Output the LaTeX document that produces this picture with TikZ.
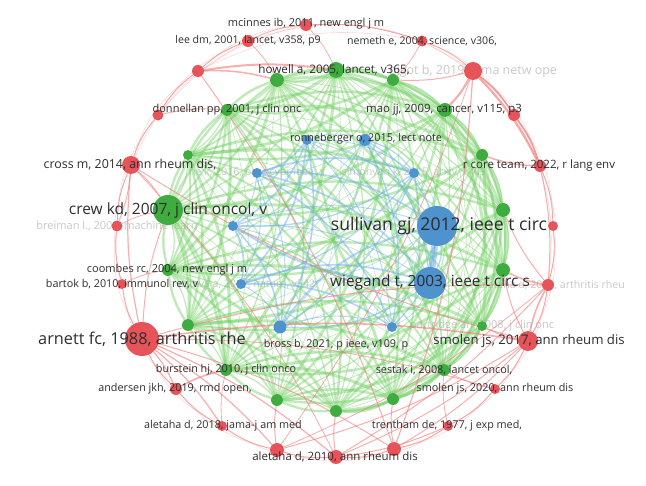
\documentclass[tikz,border=0pt]{standalone}
\usepackage{fontspec}
\setmainfont{Open Sans}
\usetikzlibrary{backgrounds}
\definecolor{redc}{RGB}{230,84,90}
\definecolor{greenc}{RGB}{62,172,62}
\definecolor{bluec}{RGB}{78,146,206}
\definecolor{redl}{RGB}{240,120,120}
\definecolor{greenl}{RGB}{115,208,100}
\definecolor{bluel}{RGB}{110,175,235}
\definecolor{txtc}{RGB}{45,45,45}
\definecolor{fadec}{RGB}{200,200,200}
\newcommand\lblsize[1]{\fontsize{#1}{#1}\selectfont}
\tikzset{
  rn/.style={circle,fill=redc,inner sep=0pt,minimum size=#1pt},
  gn/.style={circle,fill=greenc,inner sep=0pt,minimum size=#1pt},
  bn/.style={circle,fill=bluec,inner sep=0pt,minimum size=#1pt},
  lbl/.style={text=txtc,inner sep=0pt,anchor=center,font=\lblsize{#1}},
  flbl/.style={text=fadec,inner sep=0pt,anchor=center,font=\lblsize{#1}},
  gedge/.style={draw=greenl,opacity=0.45},
  bedge/.style={draw=bluel,opacity=0.5},
  redge/.style={draw=redl,opacity=0.6},
  rfaint/.style={draw=redl,opacity=0.3,line width=0.6pt},
}
\begin{document}
\begin{tikzpicture}[x=1pt,y=-1pt]
\useasboundingbox (0,0) rectangle (646,486);
% red nodes
\node[rn=12] (r1) at (306,25) {};
\node[rn=12] (r2) at (248,41) {};
\node[rn=11] (r3) at (422,41) {};
\node[rn=12] (r4) at (198,71) {};
\node[rn=18] (r5) at (473,71) {};
\node[rn=12] (r6) at (514,115) {};
\node[rn=11] (r7) at (158,115) {};
\node[rn=18] (r8) at (131,165) {};
\node[rn=12] (r9) at (540,166) {};
\node[rn=11] (r10) at (117,226) {};
\node[rn=10] (r11) at (553,226) {};
\node[rn=10] (r12) at (122,284) {};
\node[rn=12] (r13) at (548,285) {};
\node[rn=34] (r14) at (142,339) {};
\node[rn=20] (r15) at (528,341) {};
\node[rn=12] (r16) at (176,389) {};
\node[rn=10] (r17) at (495,389) {};
\node[rn=10] (r18) at (222,426) {};
\node[rn=10] (r19) at (448,426) {};
\node[rn=14] (r20) at (277,450) {};
\node[rn=14] (r21) at (336,457) {};
\node[rn=14] (r22) at (394,449) {};
% green nodes
\node[gn=16] (g1) at (336,70) {};
\node[gn=14] (g2) at (277,80) {};
\node[gn=12] (g3) at (393,80) {};
\node[gn=12] (g4) at (227,110) {};
\node[gn=14] (g5) at (445,110) {};
\node[gn=10] (g6) at (188,155) {};
\node[gn=12] (g7) at (482,155) {};
\node[gn=30] (g8) at (168,210) {};
\node[gn=14] (g9) at (503,210) {};
\node[gn=12] (g10) at (168,270) {};
\node[gn=14] (g11) at (503,270) {};
\node[gn=12] (g12) at (188,325) {};
\node[gn=10] (g13) at (482,326) {};
\node[gn=12] (g14) at (226,370) {};
\node[gn=12] (g15) at (444,370) {};
\node[gn=12] (g16) at (277,400) {};
\node[gn=12] (g17) at (393,399) {};
\node[gn=12] (g18) at (336,411) {};
% blue nodes
\node[bn=10] (b1) at (307,140) {};
\node[bn=12] (b2) at (365,140) {};
\node[bn=10] (b3) at (257,173) {};
\node[bn=10] (b4) at (414,173) {};
\node[bn=10] (b5) at (233,226) {};
\node[bn=40] (b6) at (437,226) {};
\node[bn=10] (b7) at (241,284) {};
\node[bn=32] (b8) at (430,283) {};
\node[bn=13] (b9) at (280,327) {};
\node[bn=10] (b10) at (392,327) {};

\begin{scope}[on background layer]
  % faded labels, behind the connectors
  \node[flbl=12.5] (l-r5) at (473,71) {pigot b, 2019, jama netw ope};
  \node[flbl=10.6] (l-b3) at (257,173) {he k, 2016, proc cvpr ieee, x};
  \node[flbl=10.6] (l-b4) at (414,173) {simonyan k, 2015, arxiv, 1409};
  \node[flbl=11] (l-r10) at (117,226) {breiman l., 2001, machine learn};
  \node[flbl=10.6] (l-b7) at (248,284) {esteva a, 2017, nature, v542,};
  \node[flbl=10.6] (l-r13) at (552,285) {aletaha d, 2010, arthritis rheu};
  \node[flbl=11] (l-g13) at (482,326) {partridge ah, 2008, j clin onc};
  % faint outer red arcs
  \foreach \a/\b in {r2/r3,r4/r1,r1/r5,r3/r6,r5/r9,r6/r11,r9/r13,r11/r15,r13/r17,r15/r19,r17/r22,r19/r21,r22/r20,r21/r18,r20/r16,r18/r14,r16/r12,r14/r10,r12/r8,r10/r7,r8/r4,r7/r2,r4/r3,r7/r1,r8/r2,r3/r9,r6/r13}
    \draw[rfaint] (\a) to[bend left=18] (\b);
  % green cluster
  \foreach \i in {1,...,18}{
    \foreach \j in {1,...,18}{
      \ifnum\j>\i
        \pgfmathsetmacro\ew{0.6+mod(\i*7+\j*3,5)*0.6}
        \draw[gedge,line width=\ew pt] (g\i) to[bend left=16] (g\j);
      \fi
    }
  }
  % extra green arcs along the ring
  \foreach \a/\b in {g1/g3,g3/g5,g5/g7,g7/g9,g9/g11,g11/g13,g13/g15,g15/g17,g17/g18,g18/g16,g16/g14,g14/g12,g12/g10,g10/g8,g8/g6,g6/g4,g4/g2,g2/g1,g8/g4,g8/g2,g8/g12,g8/g14}
    \draw[gedge,line width=2.4pt] (\a) to[bend left=12] (\b);
  % blue cluster
  \foreach \i in {1,...,10}{
    \foreach \j in {1,...,10}{
      \ifnum\j>\i
        \pgfmathsetmacro\ew{0.5+mod(\i*5+\j*2,4)*0.4}
        \draw[bedge,line width=\ew pt] (b\i) to[bend left=18] (b\j);
      \fi
    }
  }
  \draw[bedge,line width=7pt,opacity=0.55] (b6) -- (b8);
  \draw[bedge,line width=2pt] (b9) to[bend left=20] (b6);
  \draw[bedge,line width=2pt] (b5) to[bend right=15] (b8);
  % red ring
  \foreach \a/\b in {r2/r1,r1/r3,r3/r5,r5/r6,r6/r9,r9/r11,r11/r13,r13/r15,r15/r17,r17/r19,r19/r22,r22/r21,r21/r20,r20/r18,r18/r16,r16/r14,r14/r12,r12/r10,r10/r8,r8/r7,r7/r4,r4/r2}
    \draw[redge,line width=0.9pt] (\a) to[bend left=10] (\b);
  % red chords
  \foreach \a/\b/\c in {r14/r15/1.6,r14/r21/1.2,r14/r20/1.2,r14/r13/1,r14/r8/1.2,r14/r22/1,r14/r17/0.8,r14/r18/1.2,r14/r16/1.2,
      r15/r21/1,r15/r20/1,r15/r8/1,r15/r13/1.6,r15/r22/1,r13/r21/1,r13/r20/0.8,r8/r21/0.8,r8/r10/1,
      r5/r9/2.2,r5/r6/1.5,r5/r22/1.2,r5/r20/0.8,r4/r22/1,r6/r9/1.5,r9/r13/1,r19/r21/1,
      r16/g14/1.6,r4/g1/2,r4/g2/1.5,r5/g5/2.2,r5/g3/1,r8/g8/1,r14/g8/1,r15/g13/1,r15/g11/1,r13/g11/1.5,
      r13/g9/1,r9/g7/1.5,r7/g4/1,r20/g16/1,r21/g18/1,r22/g17/1,r2/g2/0.8,r3/g3/0.8,r1/g1/0.8,r12/g10/0.8,r10/g8/0.8,r18/g14/0.8,r19/g15/0.8,r17/g15/0.8}
    \draw[redge,line width=\c pt] (\a) to[bend left=8] (\b);
\end{scope}

% labels
\node[lbl=11] (l-r1) at (306,24) {mcinnes ib, 2011, new engl j m};
\node[lbl=10.6] (l-r2) at (248,41) {lee dm, 2001, lancet, v358, p9};
\node[lbl=10.6] (l-r3) at (422,41) {nemeth e, 2004, science, v306,};
\node[lbl=11.7] (l-g1) at (334,70) {howell a, 2005, lancet, v365,};
\node[lbl=11] (l-g4) at (227,110) {donnellan pp, 2001, j clin onc};
\node[lbl=11.4] (l-g5) at (444,110) {mao jj, 2009, cancer, v115, p3};
\node[lbl=10.8] (l-b2) at (366,139) {ronneberger o, 2015, lect note};
\node[lbl=12.4] (l-r8) at (130,165) {cross m, 2014, ann rheum dis,};
\node[lbl=11.5] (l-r9) at (539,166) {r core team, 2022, r lang env};
\node[lbl=15.5] (l-g8) at (168,210) {crew kd, 2007, j clin oncol, v};
\node[lbl=17.6] (l-b6) at (439,226) {sullivan gj, 2012, ieee t circ};
\node[lbl=11] (l-g10) at (167,270) {coombes rc, 2004, new engl j m};
\node[lbl=10.8] (l-r12) at (122,284) {bartok b, 2010, immunol rev, v};
\node[lbl=15.4] (l-b8) at (430,283) {wiegand t, 2003, ieee t circ s};
\node[lbl=16.3] (l-r14) at (142,339) {arnett fc, 1988, arthritis rhe};
\node[lbl=10.8] (l-b9) at (336,345) {bross b, 2021, p ieee, v109, p};
\node[lbl=13.2] (l-r15) at (529,341) {smolen js, 2017, ann rheum dis};
\node[lbl=10.8] (l-g14) at (226,370) {burstein hj, 2010, j clin onco};
\node[lbl=10.8] (l-g15) at (444,370) {sestak i, 2008, lancet oncol,};
\node[lbl=10.8] (l-r16) at (175,389) {andersen jkh, 2019, rmd open,};
\node[lbl=10.8] (l-r17) at (495,389) {smolen js, 2020, ann rheum dis};
\node[lbl=10.8] (l-r18) at (223,426) {aletaha d, 2018, jama-j am med};
\node[lbl=10.8] (l-r19) at (447,426) {trentham de, 1977, j exp med,};
\node[lbl=11.5] (l-r21) at (335,457) {aletaha d, 2010, ann rheum dis};
\end{tikzpicture}
\end{document}
